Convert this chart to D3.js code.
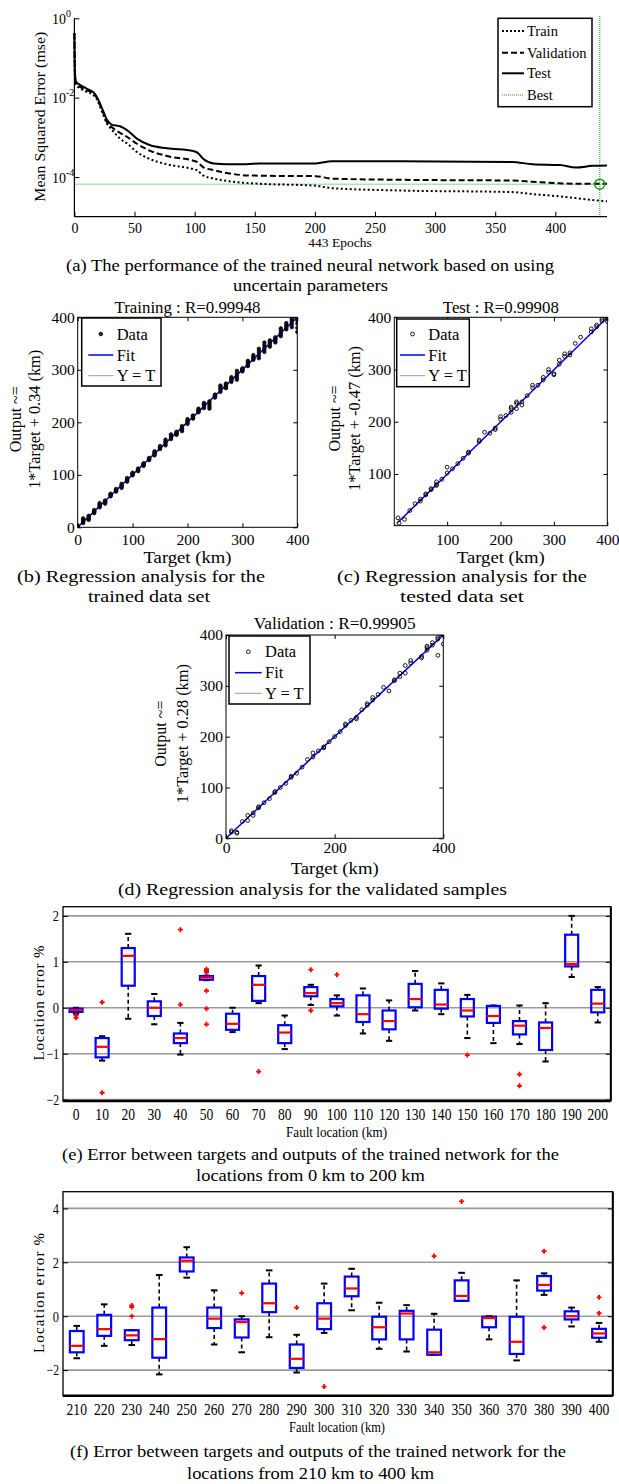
<!DOCTYPE html>
<html><head><meta charset="utf-8">
<script src="https://cdn.jsdelivr.net/npm/d3@7"></script>
<style>
body{margin:0;background:#fff}
svg{display:block}
text{font-family:"Liberation Serif","Times New Roman",serif;fill:#000}
</style>
</head><body>
<svg id="c" width="619" height="1484"></svg>
<script>
// ================= DATA =================
// (a) performance
const epochs   = [0,0.5,1.3,4.7,10,16,19,23,27,31,38,44,52,63,77,99,102,107,116,127,143,154,201,214,271,364,381,404,417,431,443];
const trainMse = [0.42,0.0316,0.0209,0.0170,0.0141,0.0115,0.0087,0.00437,0.00224,0.00158,0.00093,0.00069,0.000427,0.000282,0.000209,0.000158,0.000148,0.000110,0.0000912,0.0000794,0.0000708,0.0000676,0.0000603,0.0000525,0.0000457,0.0000417,0.0000372,0.0000324,0.0000295,0.0000263,0.0000245];
const validMse = [0.42,0.035,0.0219,0.0186,0.0155,0.0129,0.0095,0.0049,0.00245,0.00182,0.00129,0.00102,0.00069,0.000457,0.000339,0.000257,0.000240,0.000178,0.000148,0.000126,0.000110,0.000108,0.000105,0.0000912,0.0000851,0.0000813,0.0000759,0.0000692,0.0000676,0.0000676,0.0000676];
const testMse  = [0.42,0.041,0.025,0.021,0.017,0.0135,0.010,0.0054,0.0028,0.0021,0.0019,0.0015,0.00093,0.00063,0.00053,0.00045,0.00042,0.00029,0.00022,0.00021,0.00021,0.00022,0.00022,0.00025,0.00025,0.00024,0.00021,0.00020,0.000174,0.000191,0.000195];
const bestEpoch = 437;
const bestMse = 6.6e-5;
const perfXTicks = [0,50,100,150,200,250,300,350,400];
const perfYTicks = [1,1e-2,1e-4];
const perfYTickExp = ["0","-2","-4"];
const perfLegend = ["Train","Validation","Test","Best"];

// (b) training regression
const trainTargets = [0,10,20,30,40,50,60,70,80,90,100,110,120,130,140,150,160,170,180,190,200,210,220,230,240,250,260,270,280,290,300,310,320,330,340,350,360,370,380,390,400];
const trainOutputs = [
 [0,1,2,0.5,3],[8,10,13,15,17],[14,16,18,20,22],[27,29,30,31,33],[38,40,42,44,46],
 [45,47,49,50,51],[59,61,62,63,64],[68,70,71,72,73],[75,77,79,81,83],[87,89,91,92,94],
 [99,100,102,103,104],[107,108,109,110,112],[117,118,120,121,122],[128,129,130,131,132],[137,139,141,143,145],
 [149,151,152,153,155],[156,159,162,164,167],[168,170,172,175,177],[176,178,179,181,182],[183,186,188,191,193],
 [197,199,201,203,206],[207,209,210,212,213],[219,221,222,224,226],[227,229,232,235,237],[226,229,232,236,240],
 [247,249,250,251,253],[258,262,265,268,270],[265,267,270,272,274],[277,280,282,284,286],[281,285,289,293,298],
 [297,299,300,301,303],[307,309,312,315,317],[319,321,323,325,328],[322,327,332,336,340],[334,338,342,347,352],
 [344,347,350,353,356],[352,355,358,360,362],[364,368,371,375,379],[377,380,383,386,389],[381,386,390,394,398],
 [372,380,388,394,400]];
// (c) test regression [target, output]
const testPoints = [[8,16],[10,6],[20,13],[30,30],[40,43],[50,48],[50,52],[60,62],[60,60],[70,70],[70,72],[80,80],[80,85],[80,78],[90,90],[100,102],[100,113],[110,110],[120,120],[130,130],[140,140],[140,142],[160,162],[160,165],[170,180],[180,178],[190,185],[190,188],[200,205],[200,210],[210,212],[220,218],[220,225],[220,228],[230,225],[230,235],[230,238],[240,232],[240,238],[250,250],[260,265],[260,270],[270,270],[280,285],[280,280],[290,300],[290,295],[300,290],[300,292],[310,310],[310,318],[320,325],[320,330],[330,328],[330,332],[340,350],[350,362],[370,372],[370,378],[380,385],[380,382],[390,393],[390,396],[400,392],[400,398]];
// (d) validation regression [target, output]
const validPoints = [[0,0],[10,15],[10,12],[20,12],[20,10],[30,33],[40,45],[40,35],[50,45],[50,50],[60,62],[60,60],[70,70],[80,78],[90,90],[90,92],[100,100],[110,108],[120,120],[120,122],[130,128],[140,140],[150,155],[160,160],[160,168],[170,172],[180,180],[180,178],[190,190],[200,200],[210,210],[220,225],[220,222],[230,232],[240,235],[240,238],[250,253],[260,262],[260,265],[270,272],[270,277],[280,283],[290,297],[300,290],[310,310],[310,312],[320,318],[320,325],[330,325],[330,340],[340,345],[340,350],[360,358],[360,355],[370,370],[370,375],[370,378],[380,380],[380,385],[390,360],[390,392],[390,395],[400,400],[400,382]];
const fitSlope = [1,1,1];            // training, test, validation
const fitIntercept = [0.34,-0.47,0.28];
const regR = ["0.99948","0.99908","0.99905"];
const regTicksFull = [0,100,200,300,400];
const regTicksTest = [100,200,300,400];
const regTicksValX = [0,200,400];

// (e) box plot 0-200 km
const eCats = [0,10,20,30,40,50,60,70,80,90,100,110,120,130,140,150,160,170,180,190,200];
const eWhiskerLow  = [-0.13,-1.15,-0.24,-0.36,-1.02,0.60,-0.53,0.10,-0.90,0.06,-0.17,-0.56,-0.72,-0.06,-0.14,-0.66,-0.77,-0.79,-1.17,0.67,-0.32];
const eQ1          = [-0.09,-1.08,0.48,-0.18,-0.77,0.61,-0.48,0.15,-0.77,0.25,0.03,-0.31,-0.47,0.01,-0.02,-0.19,-0.33,-0.58,-0.92,0.90,-0.10];
const eMedian      = [-0.05,-0.85,1.13,0.00,-0.66,0.66,-0.35,0.50,-0.54,0.32,0.10,-0.14,-0.29,0.19,0.07,-0.06,-0.18,-0.39,-0.44,0.95,0.09];
const eQ3          = [-0.02,-0.66,1.30,0.14,-0.56,0.69,-0.13,0.69,-0.38,0.45,0.19,0.27,-0.06,0.52,0.39,0.19,0.04,-0.29,-0.32,1.59,0.39];
const eWhiskerHigh = [0.00,-0.62,1.61,0.30,-0.33,0.70,0.00,0.92,-0.17,0.50,0.27,0.42,0.16,0.80,0.53,0.28,0.05,0.05,0.10,2.00,0.45];
const eOutliers = [[-0.17,-0.22],[0.12,-1.85],[],[],[1.70,0.07],[0.84,0.80,0.77,0.37,-0.02,-0.36],[],[-1.39],[],[0.83,-0.06],[0.72],[],[],[],[],[-1.03],[],[-1.45,-1.70],[],[],[]];
const eYTicks = [-2,-1,0,1,2];

// (f) box plot 210-400 km
const fCats = [210,220,230,240,250,260,270,280,290,300,310,320,330,340,350,360,370,380,390,400];
const fWhiskerLow  = [-1.56,-1.10,-1.07,-2.16,1.43,-1.05,-1.34,-0.78,-2.09,-0.62,0.22,-1.21,-1.31,-1.43,0.57,-0.86,-1.64,0.79,-0.38,-0.95];
const fQ1          = [-1.34,-0.73,-0.89,-1.54,1.66,-0.44,-0.79,0.15,-1.92,-0.48,0.74,-0.86,-0.86,-1.43,0.57,-0.41,-1.40,0.95,-0.12,-0.80];
const fMedian      = [-1.10,-0.48,-0.71,-0.85,2.06,-0.09,-0.22,0.48,-1.58,-0.09,1.03,-0.41,0.10,-1.34,0.75,-0.07,-0.95,1.16,0.00,-0.64];
const fQ3          = [-0.55,0.05,-0.52,0.32,2.18,0.32,-0.12,1.21,-1.05,0.48,1.47,-0.02,0.20,-0.50,1.33,-0.02,-0.02,1.49,0.18,-0.47];
const fWhiskerHigh = [-0.36,0.44,-0.52,1.53,2.56,0.96,0.00,1.70,-0.69,1.21,1.76,0.50,0.41,0.09,1.61,0.00,1.33,1.59,0.32,-0.25];
const fOutliers = [[],[],[0.40,0.34,0.00],[],[],[],[0.86],[],[0.32],[-2.61],[],[],[],[2.23],[4.26],[],[],[2.41,-0.42],[],[0.70,0.11]];
const fYTicks = [-2,0,2,4];

// ================= DRAWING =================
const svg = d3.select("#c");
const SERIF = "Liberation Serif";
const GREEN = "#1f9e1f";

function caption(txt, cx, y, len, size){
  svg.append("text").attr("x",cx).attr("y",y).attr("text-anchor","middle")
    .attr("font-size",size||16.5).attr("textLength",len).attr("lengthAdjust","spacingAndGlyphs").text(txt);
}
function styleAxis(g, size){
  g.attr("font-family",SERIF).attr("font-size",size);
  g.select(".domain").remove();
  g.selectAll(".tick line").attr("stroke","#000");
}

// ---------- (a) performance ----------
(function(){
  const x = d3.scaleLinear().domain([0,443]).range([74.4,607]);
  const y = d3.scaleLog().domain([1e-5,1]).range([216.7,18.3]);
  const g = svg.append("g");
  g.append("line").attr("x1",x(0)).attr("x2",x(443)).attr("y1",y(bestMse)).attr("y2",y(bestMse))
    .attr("stroke",GREEN).attr("stroke-width",1).attr("stroke-dasharray","1,1");
  g.append("line").attr("x1",x(bestEpoch)).attr("x2",x(bestEpoch)).attr("y1",16).attr("y2",216.7)
    .attr("stroke",GREEN).attr("stroke-width",1).attr("stroke-dasharray","1,1");
  const line = vals => d3.line().x((d,i)=>x(epochs[i])).y(d=>y(d)).curve(d3.curveMonotoneX)(vals);
  g.append("path").attr("d",line(trainMse)).attr("fill","none").attr("stroke","#000").attr("stroke-width",2).attr("stroke-dasharray","2,2.5");
  g.append("path").attr("d",line(validMse)).attr("fill","none").attr("stroke","#000").attr("stroke-width",2).attr("stroke-dasharray","6,3");
  g.append("path").attr("d",line(testMse)).attr("fill","none").attr("stroke","#000").attr("stroke-width",2);
  g.append("circle").attr("cx",x(bestEpoch)).attr("cy",y(bestMse)).attr("r",5).attr("fill","none").attr("stroke",GREEN).attr("stroke-width",1.5);
  g.append("line").attr("x1",74.4).attr("x2",607).attr("y1",216.7).attr("y2",216.7).attr("stroke","#000").attr("stroke-width",1.2);
  g.append("line").attr("x1",74.4).attr("x2",74.4).attr("y1",18.3).attr("y2",216.7).attr("stroke","#000").attr("stroke-width",1.2);
  const xa = g.append("g").attr("transform","translate(0,216.7)")
    .call(d3.axisBottom(x).tickValues(perfXTicks).tickSizeInner(-5).tickSizeOuter(0).tickPadding(6.4));
  styleAxis(xa,14);
  const ya = g.append("g").attr("transform","translate(74.4,0)")
    .call(d3.axisLeft(y).tickValues(perfYTicks).tickSizeInner(-5).tickSizeOuter(0).tickFormat(""));
  styleAxis(ya,14);
  perfYTicks.forEach((v,i)=>{
    const t = g.append("text").attr("x",52).attr("y",y(v)+5.5).attr("font-size",14).text("10");
    t.append("tspan").attr("dy",-7).attr("font-size",10).text(perfYTickExp[i]);
  });
  g.append("text").attr("transform","translate(45,116.7) rotate(-90)").attr("text-anchor","middle")
    .attr("font-size",14.5).attr("textLength",170).attr("lengthAdjust","spacingAndGlyphs").text("Mean Squared Error  (mse)");
  g.append("text").attr("x",340).attr("y",246.5).attr("text-anchor","middle").attr("font-size",13.5).text("443 Epochs");
  g.append("rect").attr("x",498).attr("y",18.3).attr("width",94).attr("height",88.4).attr("fill","#fff").attr("stroke","#000").attr("stroke-width",1.5);
  const ly = [31,52.7,73.3,95];
  const lstyle = [
    {c:"#000",w:2,d:"2,2"},{c:"#000",w:2,d:"6,3"},{c:"#000",w:2,d:null},{c:GREEN,w:1,d:"1,1"}];
  perfLegend.forEach((s,i)=>{
    g.append("line").attr("x1",502).attr("x2",524).attr("y1",ly[i]).attr("y2",ly[i])
      .attr("stroke",lstyle[i].c).attr("stroke-width",lstyle[i].w).attr("stroke-dasharray",lstyle[i].d);
    g.append("text").attr("x",527).attr("y",ly[i]+5).attr("font-size",14.5).text(s);
  });
  caption("(a) The performance of the trained neural network based on using",310,271,488);
  caption("uncertain parameters",310.5,291,155);
})();

// ---------- regression panels ----------
function regPanel(o){
  const g = svg.append("g");
  const x = d3.scaleLinear().domain(o.domain).range([o.x0,o.x1]);
  const y = d3.scaleLinear().domain(o.domain).range([o.y1,o.y0]);
  const cid = "clip"+o.id;
  g.append("clipPath").attr("id",cid).append("rect").attr("x",o.x0).attr("y",o.y0).attr("width",o.x1-o.x0).attr("height",o.y1-o.y0);
  const pg = g.append("g").attr("clip-path",`url(#${cid})`);
  pg.append("line").attr("x1",x(o.domain[0])).attr("y1",y(o.domain[0])).attr("x2",x(o.domain[1])).attr("y2",y(o.domain[1]))
    .attr("stroke","#999").attr("stroke-width",1);
  const ext = d3.extent(o.points,d=>d[0]);
  pg.append("line").attr("x1",x(ext[0])).attr("y1",y(o.slope*ext[0]+o.icpt)).attr("x2",x(ext[1])).attr("y2",y(o.slope*ext[1]+o.icpt))
    .attr("stroke","#0000ff").attr("stroke-width",1.5);
  pg.selectAll("circle.pt").data(o.points).join("circle").attr("class","pt")
    .attr("cx",d=>x(d[0])).attr("cy",d=>y(d[1])).attr("r",o.filled?1.8:1.9)
    .attr("fill",o.filled?"#111":"none").attr("stroke","#000").attr("stroke-width",o.filled?0.6:0.9);
  const ax = g.append("g").attr("transform",`translate(0,${o.y1})`)
    .call(d3.axisBottom(x).tickValues(o.xTicks).tickSizeInner(-4).tickSizeOuter(0).tickPadding(o.xPad));
  styleAxis(ax,15.5);
  const at = g.append("g").attr("transform",`translate(0,${o.y0})`)
    .call(d3.axisTop(x).tickValues(o.xTicks).tickSizeInner(-4).tickSizeOuter(0).tickFormat(""));
  styleAxis(at,15);
  const al = g.append("g").attr("transform",`translate(${o.x0},0)`)
    .call(d3.axisLeft(y).tickValues(o.yTicks).tickSizeInner(-4).tickSizeOuter(0).tickPadding(3));
  styleAxis(al,15.5);
  const ar = g.append("g").attr("transform",`translate(${o.x1},0)`)
    .call(d3.axisRight(y).tickValues(o.yTicks).tickSizeInner(-4).tickSizeOuter(0).tickFormat(""));
  styleAxis(ar,15);
  g.append("rect").attr("x",o.x0).attr("y",o.y0).attr("width",o.x1-o.x0).attr("height",o.y1-o.y0)
    .attr("fill","none").attr("stroke","#000").attr("stroke-width",1);
  const cx = (o.x0+o.x1)/2;
  g.append("text").attr("x",cx).attr("y",o.titleY).attr("text-anchor","middle").attr("font-size",16.5)
    .attr("textLength",o.titleW).attr("lengthAdjust","spacingAndGlyphs").text(o.title);
  g.append("text").attr("x",cx).attr("y",o.xlabY).attr("text-anchor","middle").attr("font-size",16)
    .attr("textLength",88).attr("lengthAdjust","spacingAndGlyphs").text("Target (km)");
  const cy = (o.y0+o.y1)/2 - 3;
  g.append("text").attr("transform",`translate(${o.yl1},${cy}) rotate(-90)`).attr("text-anchor","middle").attr("font-size",16).text("Output ~=");
  g.append("text").attr("transform",`translate(${o.yl2},${cy}) rotate(-90)`).attr("text-anchor","middle").attr("font-size",16)
    .attr("textLength",o.ylabW).attr("lengthAdjust","spacingAndGlyphs").text(o.ylab);
  const L = o.leg;
  g.append("rect").attr("x",L.x0).attr("y",L.y0).attr("width",L.x1-L.x0).attr("height",L.y1-L.y0)
    .attr("fill","#fff").attr("stroke","#000").attr("stroke-width",1.5);
  const mid = (L.s0+L.s1)/2;
  g.append("circle").attr("cx",mid).attr("cy",L.ys[0]).attr("r",o.filled?1.8:1.9)
    .attr("fill",o.filled?"#333":"none").attr("stroke","#000").attr("stroke-width",0.9);
  g.append("line").attr("x1",L.s0).attr("x2",L.s1).attr("y1",L.ys[1]).attr("y2",L.ys[1]).attr("stroke","#0000ff").attr("stroke-width",1.5);
  g.append("line").attr("x1",L.s0).attr("x2",L.s1).attr("y1",L.ys[2]).attr("y2",L.ys[2]).attr("stroke","#999").attr("stroke-width",1);
  ["Data","Fit","Y = T"].forEach((s,i)=>{
    g.append("text").attr("x",L.tx).attr("y",L.ys[i]+5.5).attr("font-size",16.5).text(s);
  });
}

const trainPoints = [];
trainTargets.forEach((t,i)=>trainOutputs[i].forEach(v=>trainPoints.push([t,v])));

regPanel({id:"b",points:trainPoints,filled:true,domain:[0,400],x0:77.7,x1:297.3,y0:317.3,y1:527.3,
  xTicks:regTicksFull,yTicks:regTicksFull,xPad:6.8,slope:fitSlope[0],icpt:fitIntercept[0],
  title:"Training : R="+regR[0],titleW:146,titleY:313,xlabY:563,yl1:21,yl2:40,ylabW:139,
  ylab:"1*Target + "+fitIntercept[0]+" (km)",
  leg:{x0:81.7,x1:161,y0:318,y1:386,s0:88.3,s1:113.3,tx:116.7,ys:[334,355,375.7]}});
regPanel({id:"c",points:testPoints,filled:false,domain:[1,400],x0:394.3,x1:607.3,y0:317.3,y1:525.7,
  xTicks:regTicksTest,yTicks:regTicksTest,xPad:8.4,slope:fitSlope[1],icpt:fitIntercept[1],
  title:"Test : R="+regR[1],titleW:116,titleY:313,xlabY:563,yl1:340,yl2:360,ylabW:145,
  ylab:"1*Target + "+fitIntercept[1]+" (km)",
  leg:{x0:396.7,x1:469.3,y0:319,y1:386.7,s0:400,s1:425,tx:428.3,ys:[334,355,375.7]}});
regPanel({id:"d",points:validPoints,filled:false,domain:[0,400],x0:226,x1:443.3,y0:635,y1:838.3,
  xTicks:regTicksValX,yTicks:regTicksFull,xPad:4,slope:fitSlope[2],icpt:fitIntercept[2],
  title:"Validation : R="+regR[2],titleW:162,titleY:629,xlabY:873.5,yl1:166,yl2:188,ylabW:139,
  ylab:"1*Target + "+fitIntercept[2]+" (km)",
  leg:{x0:229,x1:310,y0:636,y1:704,s0:235,s1:261.7,tx:265,ys:[651.7,672.7,693.3]}});

caption("(b) Regression analysis for the",141,582,248);
caption("trained data set",149,602,122);
caption("(c) Regression analysis for the",462,582,250);
caption("tested data set",462,602,124);
caption("(d) Regression analysis for the validated samples",312.5,894.5,389);

// ---------- box panels ----------
function boxPanel(o){
  const g = svg.append("g");
  const x = d3.scaleBand().domain(o.cats).range([o.x0,o.x1]);
  const y = d3.scaleLinear().domain(o.yDomain).range([o.y1,o.y0]);
  g.selectAll("line.grid").data(o.yTicks).join("line").attr("class","grid")
    .attr("x1",o.x0).attr("x2",o.x1).attr("y1",d=>y(d)).attr("y2",d=>y(d))
    .attr("stroke","#9a9a9a").attr("stroke-width",1.6);
  const al = g.append("g").attr("transform",`translate(${o.x0},0)`)
    .call(d3.axisLeft(y).tickValues(o.yTicks).tickFormat(d3.format("d")).tickSizeInner(-5).tickSizeOuter(0).tickPadding(4));
  styleAxis(al,15);
  al.selectAll(".tick text").attr("textLength",function(){return this.textContent.length*6.2;}).attr("lengthAdjust","spacingAndGlyphs");
  const ar = g.append("g").attr("transform",`translate(${o.x1},0)`)
    .call(d3.axisRight(y).tickValues(o.yTicks).tickSizeInner(-5).tickSizeOuter(0).tickFormat(""));
  styleAxis(ar,15);
  const ab = g.append("g").attr("transform",`translate(0,${o.y1})`)
    .call(d3.axisBottom(x).tickSize(0).tickPadding(7.7));
  styleAxis(ab,16);
  ab.selectAll(".tick text").attr("textLength",function(){return this.textContent.length*6.8;}).attr("lengthAdjust","spacingAndGlyphs");
  const rows = o.cats.map((c,i)=>({c,lo:o.lo[i],q1:o.q1[i],med:o.med[i],q3:o.q3[i],hi:o.hi[i],out:o.out[i]}));
  const bw = x.bandwidth();
  const cxf = d => x(d.c)+bw/2;
  const bg = g.selectAll("g.box").data(rows).join("g").attr("class","box");
  bg.append("line").attr("x1",cxf).attr("x2",cxf).attr("y1",d=>y(d.q3)).attr("y2",d=>y(d.hi))
    .attr("stroke","#000").attr("stroke-width",1.6).attr("stroke-dasharray","4,3");
  bg.append("line").attr("x1",cxf).attr("x2",cxf).attr("y1",d=>y(d.q1)).attr("y2",d=>y(d.lo))
    .attr("stroke","#000").attr("stroke-width",1.6).attr("stroke-dasharray","4,3");
  bg.append("line").attr("x1",d=>cxf(d)-bw*0.12).attr("x2",d=>cxf(d)+bw*0.12).attr("y1",d=>y(d.hi)).attr("y2",d=>y(d.hi))
    .attr("stroke","#000").attr("stroke-width",2);
  bg.append("line").attr("x1",d=>cxf(d)-bw*0.12).attr("x2",d=>cxf(d)+bw*0.12).attr("y1",d=>y(d.lo)).attr("y2",d=>y(d.lo))
    .attr("stroke","#000").attr("stroke-width",2);
  bg.append("rect").attr("x",d=>cxf(d)-bw*0.25).attr("width",bw*0.5)
    .attr("y",d=>y(d.q3)).attr("height",d=>Math.max(y(d.q1)-y(d.q3),1))
    .attr("fill","none").attr("stroke","#0000ff").attr("stroke-width",2.2);
  bg.append("line").attr("x1",d=>cxf(d)-bw*0.25).attr("x2",d=>cxf(d)+bw*0.25).attr("y1",d=>y(d.med)).attr("y2",d=>y(d.med))
    .attr("stroke","#ff0000").attr("stroke-width",2.2);
  bg.each(function(d){
    d3.select(this).selectAll("path.out").data(d.out).join("path").attr("class","out")
      .attr("d",v=>{const px=cxf(d),py=y(v);return `M${px-2.5},${py}H${px+2.5}M${px},${py-2.5}V${py+2.5}`;})
      .attr("stroke","#ff0000").attr("stroke-width",1.8);
  });
  g.append("rect").attr("x",o.x0).attr("y",o.y0).attr("width",o.x1-o.x0).attr("height",o.y1-o.y0)
    .attr("fill","none").attr("stroke","#000").attr("stroke-width",1.3);
  g.append("line").attr("x1",o.x0).attr("x2",o.x1).attr("y1",o.y1).attr("y2",o.y1).attr("stroke","#000").attr("stroke-width",2.4);
  g.append("line").attr("x1",o.x1).attr("x2",o.x1).attr("y1",o.y0).attr("y2",o.y1).attr("stroke","#000").attr("stroke-width",2);
  g.append("text").attr("x",o.xlabX).attr("y",o.xlabY).attr("text-anchor","middle").attr("font-size",14.5)
    .attr("textLength",o.xlabW).attr("lengthAdjust","spacingAndGlyphs").text("Fault location (km)");
  g.append("text").attr("transform",`translate(44,${o.ylabY}) rotate(-90)`).attr("text-anchor","middle").attr("font-size",15)
    .attr("textLength",o.ylabW).attr("lengthAdjust","spacing").text("Location error %");
}

boxPanel({cats:eCats,lo:eWhiskerLow,q1:eQ1,med:eMedian,q3:eQ3,hi:eWhiskerHigh,out:eOutliers,
  yTicks:eYTicks,yDomain:[-2.03,2.2],x0:63,x1:610.8,y0:906.7,y1:1101,
  xlabX:336.6,xlabY:1137,xlabW:101,ylabY:1003,ylabW:115});
boxPanel({cats:fCats,lo:fWhiskerLow,q1:fQ1,med:fMedian,q3:fQ3,hi:fWhiskerHigh,out:fOutliers,
  yTicks:fYTicks,yDomain:[-2.95,4.62],x0:63,x1:612.8,y0:1191.7,y1:1395.7,
  xlabX:337,xlabY:1432,xlabW:96,ylabY:1293,ylabW:120});

caption("(e) Error between targets and outputs of the trained network for the",310.5,1160,497);
caption("locations from 0 km to 200 km",310.5,1181,229);
caption("(f) Error between targets and outputs of the trained network for the",318,1457,496);
caption("locations from 210 km to 400 km",310.5,1479,247);
</script>
</body></html>
